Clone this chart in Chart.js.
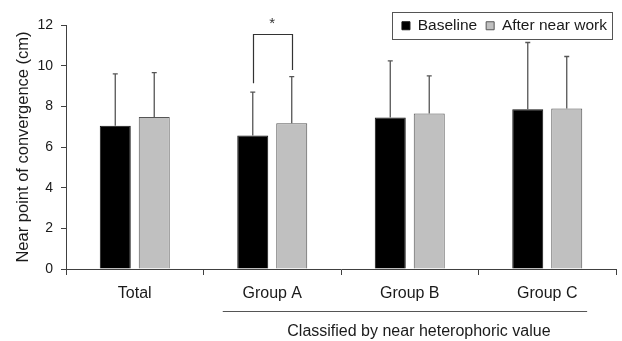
<!DOCTYPE html>
<html>
<head>
<meta charset="utf-8">
<script src="https://cdn.jsdelivr.net/npm/chart.js@4/dist/chart.umd.min.js"></script>
<style>
  html, body { margin: 0; padding: 0; background: #fff; }
  canvas { display: block; }
</style>
</head>
<body>
<canvas id="npcChart" width="622" height="341"></canvas>
<script>
// Data
const categories = ['Total', 'Group A', 'Group B', 'Group C'];
const baselineMeans = [7.05, 6.57, 7.45, 7.86];
const baselineSD = [2.55, 2.13, 2.79, 3.28];
const afterWorkMeans = [7.47, 7.17, 7.65, 7.89];
const afterWorkSD = [2.19, 2.29, 1.85, 2.56];
const yTicks = [0, 2, 4, 6, 8, 10, 12];

// significance bracket for Group A: left foot, top, right foot (axis units)
const sigIndex = 1;
const sigLevels = [9.14, 11.56, 9.79];
const sigMark = '*';
const groupNote = 'Classified by near heterophoric value';

const FONT = "'Liberation Sans', Arial, sans-serif";
const INK = '#1a1a1a';
const AXIS = '#404040';

Chart.defaults.font.family = FONT;
Chart.defaults.color = INK;

// Upper error bars with small caps
const errorBars = {
    id: 'errorBars',
    afterDatasetsDraw(chart) {
        const ctx = chart.ctx;
        const y = chart.scales.y;
        const sds = [baselineSD, afterWorkSD];
        ctx.save();
        ctx.strokeStyle = '#555';
        ctx.lineWidth = 1.3;
        chart.data.datasets.forEach((ds, d) => {
            chart.getDatasetMeta(d).data.forEach((bar, i) => {
                const top = y.getPixelForValue(ds.data[i] + sds[d][i]);
                ctx.beginPath();
                ctx.moveTo(bar.x, bar.y);
                ctx.lineTo(bar.x, top);
                ctx.moveTo(bar.x - 2.5, top);
                ctx.lineTo(bar.x + 2.5, top);
                ctx.stroke();
            });
        });
        ctx.restore();
    }
};

// Bracket + asterisk, legend frame, group underline + note
const annotations = {
    id: 'annotations',
    afterLayout(chart) {
        // legend overlaps the plot top; give its clip box room for the text
        const lg = chart.legend;
        lg.bottom += 20;
        lg.height += 20;
    },
    afterDraw(chart) {
        const ctx = chart.ctx;
        const x = chart.scales.x;
        const y = chart.scales.y;
        const area = chart.chartArea;

        // significance bracket
        const xl = chart.getDatasetMeta(0).data[sigIndex].x;
        const xr = chart.getDatasetMeta(1).data[sigIndex].x;
        const yTop = y.getPixelForValue(sigLevels[1]);
        ctx.save();
        ctx.strokeStyle = '#333';
        ctx.lineWidth = 1.2;
        ctx.beginPath();
        ctx.moveTo(Math.round(xl) + 0.5, y.getPixelForValue(sigLevels[0]));
        ctx.lineTo(Math.round(xl) + 0.5, Math.round(yTop) + 0.5);
        ctx.lineTo(Math.round(xr) + 0.5, Math.round(yTop) + 0.5);
        ctx.lineTo(Math.round(xr) + 0.5, y.getPixelForValue(sigLevels[2]));
        ctx.stroke();
        ctx.fillStyle = '#333';
        ctx.font = '15px ' + FONT;
        ctx.textAlign = 'center';
        ctx.textBaseline = 'alphabetic';
        ctx.fillText(sigMark, (xl + xr) / 2, yTop - 6);

        // legend frame
        const lg = chart.legend;
        if (lg && lg.lineWidths) {
            const pad = lg.options.labels.padding;
            const firstX = lg.right - lg.lineWidths[0];
            const midY = lg.top + pad + 7.75;
            ctx.strokeStyle = '#555';
            ctx.lineWidth = 1;
            ctx.strokeRect(Math.round(firstX - 10) + 0.5, Math.round(midY - 13.5) + 0.5,
                Math.round(lg.right - 4 - (firstX - 10)), 27);
        }

        // underline for the heterophoria groups and its note
        const cw = x.getPixelForValue(1) - x.getPixelForValue(0);
        const lx0 = x.getPixelForValue(1) - 0.36 * cw;
        const lx1 = x.getPixelForValue(3) + 0.29 * cw;
        const ly = area.bottom + 42;
        ctx.strokeStyle = '#555';
        ctx.lineWidth = 1;
        ctx.beginPath();
        ctx.moveTo(lx0, ly + 0.5);
        ctx.lineTo(lx1, ly + 0.5);
        ctx.stroke();
        ctx.fillStyle = INK;
        ctx.font = '16px ' + FONT;
        ctx.textBaseline = 'middle';
        ctx.fillText(groupNote, (lx0 + lx1) / 2 + 14, area.bottom + 63);
        ctx.restore();
    }
};

new Chart(document.getElementById('npcChart'), {
    type: 'bar',
    data: {
        labels: categories,
        datasets: [
            {
                label: 'Baseline',
                data: baselineMeans,
                backgroundColor: '#000000',
                borderColor: '#111111',
                borderWidth: 1,
                categoryPercentage: 0.567,
                barPercentage: 0.795
            },
            {
                label: 'After near work',
                data: afterWorkMeans,
                backgroundColor: '#c0c0c0',
                borderColor: '#555555',
                borderWidth: 1,
                categoryPercentage: 0.567,
                barPercentage: 0.795
            }
        ]
    },
    options: {
        responsive: false,
        animation: false,
        devicePixelRatio: 1,
        layout: { padding: { top: 9, right: 6, left: 0, bottom: 0 } },
        plugins: {
            tooltip: { enabled: false },
            legend: {
                position: 'top',
                align: 'end',
                maxHeight: 16,
                labels: {
                    boxWidth: 8,
                    boxHeight: 8,
                    padding: 9,
                    color: INK,
                    font: { size: 15.5 }
                }
            }
        },
        scales: {
            x: {
                afterFit: (scale) => { scale.height = 72; },
                grid: { drawOnChartArea: false, tickLength: 6, color: AXIS, offset: true },
                border: { color: AXIS, width: 1 },
                ticks: { color: INK, font: { size: 16 }, padding: 9, maxRotation: 0 }
            },
            y: {
                min: 0,
                max: 12,
                afterFit: (scale) => { scale.width = 66; },
                afterBuildTicks: (scale) => { scale.ticks = yTicks.map(v => ({ value: v })); },
                grid: { drawOnChartArea: false, tickLength: 5, color: AXIS },
                border: { color: AXIS, width: 1 },
                ticks: { color: INK, font: { size: 14 }, padding: 8 },
                title: {
                    display: true,
                    text: 'Near point of convergence (cm)',
                    color: INK,
                    font: { size: 16.5 },
                    padding: { top: 14, bottom: 0 }
                }
            }
        }
    },
    plugins: [errorBars, annotations]
});
</script>
</body>
</html>
